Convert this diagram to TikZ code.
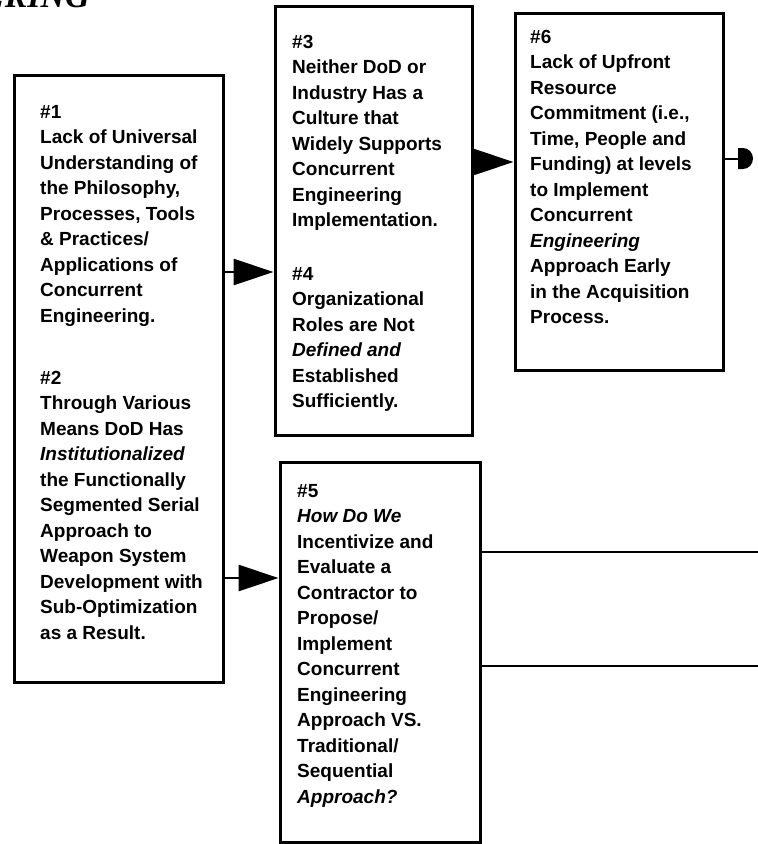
\documentclass[tikz,border=0pt]{standalone}
\usepackage{fontspec}
\setmainfont{Liberation Sans}
\newfontfamily\titlefont{Liberation Serif}
\usetikzlibrary{arrows.meta}
\begin{document}
\begin{tikzpicture}[x=1pt,y=-1pt,
  box/.style={draw, line width=3pt, inner sep=0pt},
  txt/.style={anchor=north west, inner sep=0pt, align=left,
    font=\fontsize{19}{25.5}\selectfont\bfseries},
  arr/.style={line width=2.8pt, -{Triangle[length=40pt,width=26pt]}},
  link/.style={line width=2.4pt}]
\useasboundingbox (0,0) rectangle (758,844);
\clip (0,0) rectangle (758,844);

% heading, running off the top edge
\node[anchor=base east, inner sep=0pt,
  font=\titlefont\fontsize{34}{34}\selectfont\bfseries\itshape] (title) at (90,7) {ERING};

% frames
\node[box, minimum width=209pt, minimum height=607pt] (b1)  at (118.5,378.5) {};
\node[box, minimum width=197pt, minimum height=429pt] (b34) at (373.5,220.5) {};
\node[box, minimum width=208pt, minimum height=357pt] (b6)  at (619,191.5) {};
\node[box, minimum width=200pt, minimum height=380pt] (b5)  at (380,652) {};

% texts
\node[txt] (t1) at (40,105) {\#1\\Lack of Universal\\Understanding of\\the Philosophy,\\Processes, Tools\\\& Practices/\\Applications of\\Concurrent\\Engineering.};
\node[txt] (t2) at (40,371) {\#2\\Through Various\\Means DoD Has\\\textit{Institutionalized}\\the Functionally\\Segmented Serial\\Approach to\\Weapon System\\Development with\\Sub-Optimization\\as a Result.};
\node[txt] (t3) at (292,35) {\#3\\Neither DoD or\\Industry Has a\\Culture that\\Widely Supports\\Concurrent\\Engineering\\Implementation.};
\node[txt] (t4) at (292,267) {\#4\\Organizational\\Roles are Not\\\textit{Defined and}\\Established\\Sufficiently.};
\node[txt] (t5) at (297,484) {\#5\\\textit{How Do We}\\Incentivize and\\Evaluate a\\Contractor to\\Propose/\\Implement\\Concurrent\\Engineering\\Approach VS.\\Traditional/\\Sequential\\\textit{Approach?}};
\node[txt] (t6) at (530,30) {\#6\\Lack of Upfront\\Resource\\Commitment (i.e.,\\Time, People and\\Funding) at levels\\to Implement\\Concurrent\\\textit{Engineering}\\Approach Early\\in the Acquisition\\Process.};

% connectors
\draw[arr] (b1.east |- 0,272) -- (b34.west |- 0,272);
\draw[arr] (b1.east |- 0,578) -- (b5.west |- 0,578);
\draw[arr] (b34.east |- 0,162) -- (b6.west |- 0,162);

\coordinate (d6) at (738,159);
\draw[link] (b6.east |- d6) -- (d6);
\fill (738,148) -- (743,148) arc[start angle=90, end angle=-90, x radius=10pt, y radius=10.5pt] -- (738,169) -- cycle;

\coordinate (r1) at (758,552);
\coordinate (r2) at (758,666);
\draw[link] (b5.east |- r1) -- (r1);
\draw[link] (b5.east |- r2) -- (r2);
\end{tikzpicture}
\end{document}
